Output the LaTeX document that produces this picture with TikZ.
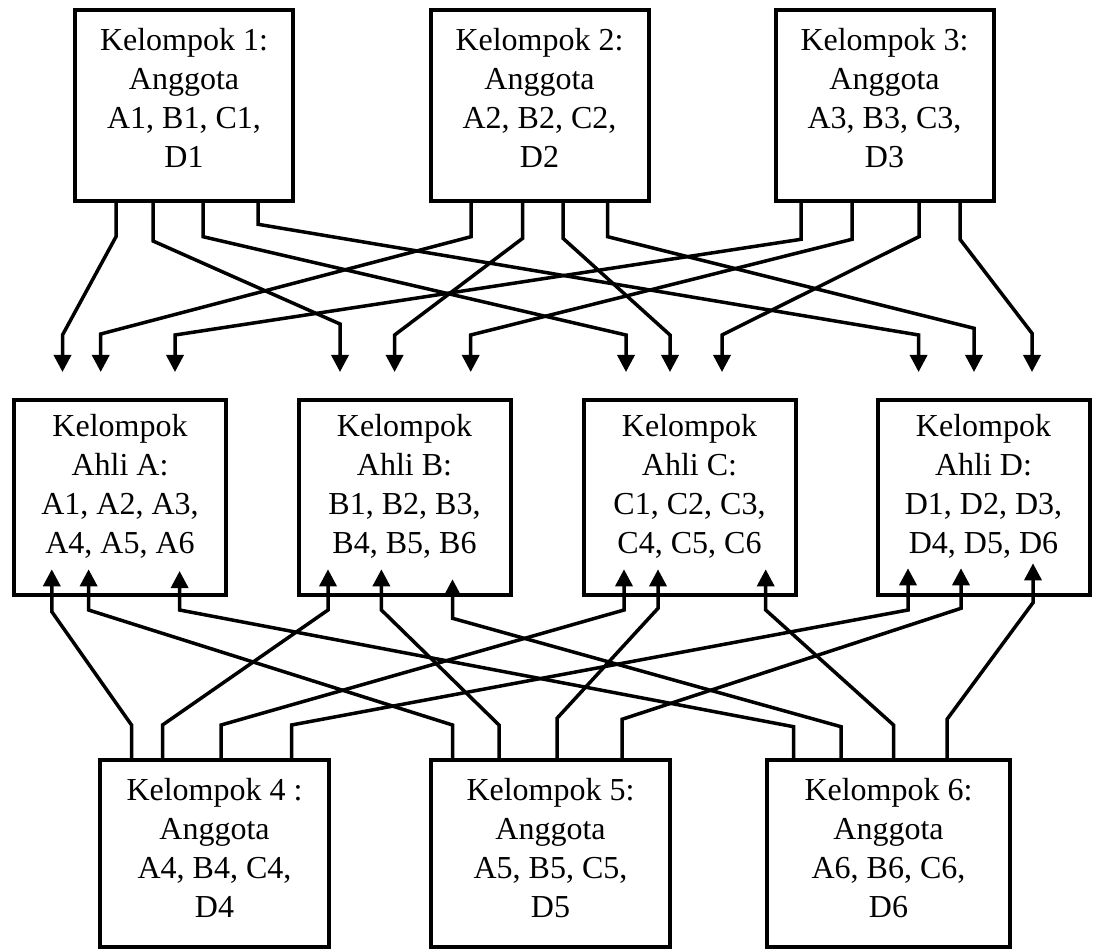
\documentclass[tikz,border=0pt]{standalone}
\usepackage{fontspec}
\setmainfont{Liberation Serif}
\usetikzlibrary{arrows.meta,calc}
\begin{document}
\begin{tikzpicture}[x=1pt,y=-1pt,
  box/.style={draw,line width=4pt,inner sep=0pt,fill=white},
  topbox/.style={box,minimum width=218pt,minimum height=191pt},
  midbox/.style={box,minimum width=212pt,minimum height=195pt},
  botbox/.style={box,minimum height=187pt},
  txt/.style={align=center,inner sep=0pt,anchor=north,font=\fontsize{32pt}{39pt}\selectfont},
  conn/.style={line width=3.5pt,-{Triangle[width=17pt,length=17pt]}},
]
\useasboundingbox (0,0) rectangle (1098,949);
% top groups
\node[topbox] (k1) at (184,105.5) {};
\node[topbox] (k2) at (539.5,105.5) {};
\node[topbox] (k3) at (884.5,105.5) {};
\node[txt] (t1) at (184,28) {Kelompok 1:\\Anggota\\A1, B1, C1,\\D1};
\node[txt] (t2) at (539.5,28) {Kelompok 2:\\Anggota\\A2, B2, C2,\\D2};
\node[txt] (t3) at (884.5,28) {Kelompok 3:\\Anggota\\A3, B3, C3,\\D3};
% expert groups
\node[midbox] (ea) at (120,497.5) {};
\node[midbox] (eb) at (404.5,497.5) {};
\node[midbox] (ec) at (689.5,497.5) {};
\node[midbox] (ed) at (983.5,497.5) {};
\node[txt] (ta) at (120,414) {Kelompok\\Ahli A:\\A1, A2, A3,\\A4, A5, A6};
\node[txt] (tb) at (404.5,414) {Kelompok\\Ahli B:\\B1, B2, B3,\\B4, B5, B6};
\node[txt] (tc) at (689.5,414) {Kelompok\\Ahli C:\\C1, C2, C3,\\C4, C5, C6};
\node[txt] (td) at (983.5,414) {Kelompok\\Ahli D:\\D1, D2, D3,\\D4, D5, D6};
% bottom groups
\node[botbox,minimum width=229pt] (k4) at (214.5,853.5) {};
\node[botbox,minimum width=239pt] (k5) at (550.5,853.5) {};
\node[botbox,minimum width=243pt] (k6) at (888.5,853.5) {};
\node[txt] (t4) at (214.5,778) {Kelompok 4 :\\Anggota\\A4, B4, C4,\\D4};
\node[txt] (t5) at (550.5,778) {Kelompok 5:\\Anggota\hspace{12pt}\\A5, B5, C5,\\D5};
\node[txt] (t6) at (888.5,778) {Kelompok 6:\hspace{14pt}\\Anggota\hspace{14pt}\\A6, B6, C6,\\D6};
% arrow tips, top half
\coordinate (a1) at (62.5,372);  \coordinate (a2) at (100.7,372); \coordinate (a3) at (175,372);
\coordinate (b1) at (340,372);   \coordinate (b2) at (394.6,372); \coordinate (b3) at (470.7,372);
\coordinate (c1) at (626,372);   \coordinate (c2) at (670,372);   \coordinate (c3) at (722,372);
\coordinate (d1) at (918.6,372); \coordinate (d2) at (974,372);   \coordinate (d3) at (1032,372);
% arrow tips, bottom half
\coordinate (a4) at (51.8,569.3);  \coordinate (a5) at (88.6,569.3);  \coordinate (a6) at (179.6,571);
\coordinate (b4) at (328,569.3);   \coordinate (b5) at (381.4,569.3); \coordinate (b6) at (452.5,579.3);
\coordinate (c4) at (624,569.3);   \coordinate (c5) at (658,569.3);   \coordinate (c6) at (765.7,569.3);
\coordinate (d4) at (908,568.3);   \coordinate (d5) at (961,568.3);   \coordinate (d6) at (1033,563.3);
% from top groups to expert groups
\draw[conn] (116,0 |- k1.south) -- (116,236.7) -- (62.5,335) -- (a1);
\draw[conn] (153,0 |- k1.south) -- (153,241) -- (340,324) -- (b1);
\draw[conn] (203,0 |- k1.south) -- (203,236.7) -- (626,335) -- (c1);
\draw[conn] (258,0 |- k1.south) -- (258,224.3) -- (918.6,335) -- (d1);
\draw[conn] (471,0 |- k2.south) -- (471,236.7) -- (100.7,334) -- (a2);
\draw[conn] (522.7,0 |- k2.south) -- (522.7,238.3) -- (394.6,335) -- (b2);
\draw[conn] (563,0 |- k2.south) -- (563,238.3) -- (670,335) -- (c2);
\draw[conn] (607.7,0 |- k2.south) -- (607.7,236.7) -- (974,328.3) -- (d2);
\draw[conn] (801,0 |- k3.south) -- (801,239.3) -- (175,335) -- (a3);
\draw[conn] (852,0 |- k3.south) -- (852,239.3) -- (470.7,335) -- (b3);
\draw[conn] (919,0 |- k3.south) -- (919,236.7) -- (722,335) -- (c3);
\draw[conn] (960,0 |- k3.south) -- (960,239.3) -- (1032,333.3) -- (d3);
% from bottom groups to expert groups
\draw[conn] (131.5,0 |- k4.north) -- (131.5,725) -- (51.8,611.7) -- (a4);
\draw[conn] (162.5,0 |- k4.north) -- (162.5,725) -- (328,610) -- (b4);
\draw[conn] (221,0 |- k4.north) -- (221,725) -- (624,610) -- (c4);
\draw[conn] (291.5,0 |- k4.north) -- (291.5,725) -- (908,610) -- (d4);
\draw[conn] (452.5,0 |- k5.north) -- (452.5,725) -- (88.6,610) -- (a5);
\draw[conn] (499,0 |- k5.north) -- (499,725) -- (381.4,610) -- (b5);
\draw[conn] (557,0 |- k5.north) -- (557,718.3) -- (658,608.3) -- (c5);
\draw[conn] (622,0 |- k5.north) -- (622,719.3) -- (961,608.3) -- (d5);
\draw[conn] (793.5,0 |- k6.north) -- (793.5,726.7) -- (179.6,610) -- (a6);
\draw[conn] (841,0 |- k6.north) -- (841,726.7) -- (452.5,618.3) -- (b6);
\draw[conn] (893.5,0 |- k6.north) -- (893.5,725) -- (765.7,610) -- (c6);
\draw[conn] (947,0 |- k6.north) -- (947,719.3) -- (1033,602.7) -- (d6);
\end{tikzpicture}
\end{document}
